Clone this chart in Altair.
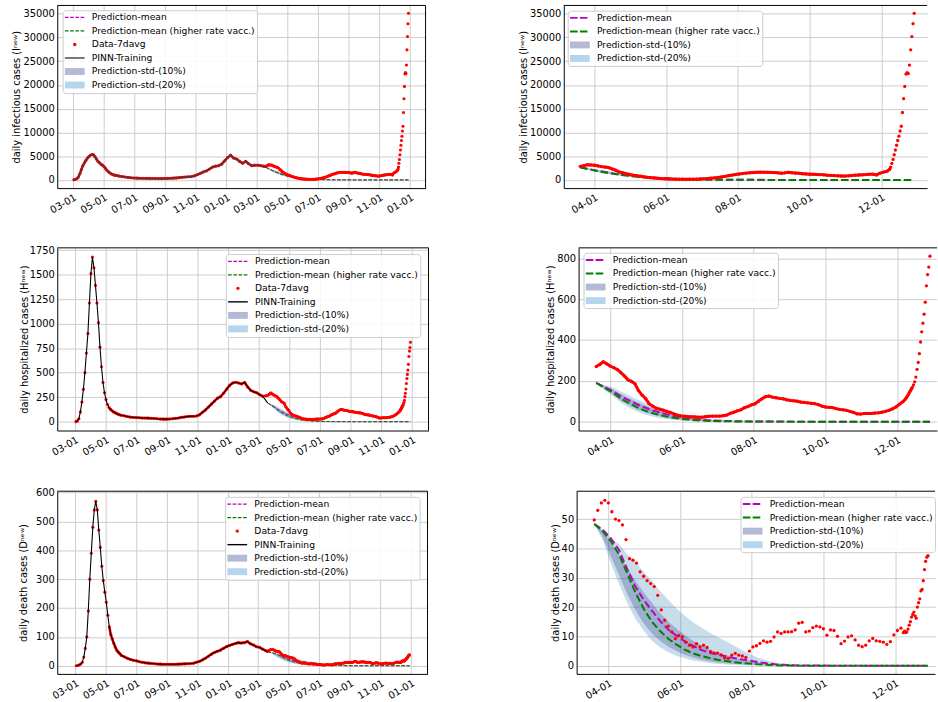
import altair as alt
import pandas as pd

# ---------------------------------------------------------------- data
# observed 7-day averages, stored in four segments with their own sampling step
SEG_STARTS = ["2020-03-03", "2020-06-01", "2021-03-20", "2021-12-08"]
SEG_STEPS = [3, 6, 3, 1]

I_SEG1 = [50, 120, 250, 600, 1300, 2200, 3000, 3600, 4100, 4600,
          4900, 5200, 5350, 5300, 4900, 4400, 3900, 3600, 3300, 3100,
          2800, 2400, 2000, 1700, 1450, 1250, 1100, 1000, 950, 880]
I_SEG2 = [800, 700, 600, 520, 450, 400, 370, 350, 330, 320,
          310, 300, 290, 280, 280, 300, 320, 350, 380, 420,
          480, 550, 600, 650, 700, 850, 1100, 1400, 1700, 1900,
          2300, 2700, 2900, 3000, 3300, 4000, 4700, 5200, 4600, 4400,
          3900, 3500, 3900, 3400, 3000, 3100, 3100, 3000, 2900]
I_SEG3 = [2850, 3000, 3200, 3150, 3100, 2950, 2800, 2700, 2600, 2300,
          2050, 1700, 1500, 1300, 1150, 1000, 900, 780, 650, 550,
          470, 400, 330, 270, 220, 190, 170, 150, 140, 135,
          130, 135, 140, 160, 190, 230, 280, 350, 430, 520,
          620, 750, 880, 1000, 1130, 1230, 1330, 1430, 1500, 1560,
          1600, 1610, 1600, 1590, 1570, 1540, 1500, 1420, 1480, 1600,
          1520, 1450, 1380, 1310, 1250, 1200, 1170, 1150, 1110, 1080,
          1000, 950, 900, 860, 820, 800, 850, 920, 1000, 1050,
          1080, 1120, 1180, 1200, 1050, 1450, 1650, 1850]
I_SEG4 = [2200, 2700, 3500, 4300, 5300, 6300, 7300, 8300, 9200, 10300,
          11300, 14200, 17100, 19700, 22300, 22600, 22400, 24200, 27400, 30200,
          32900, 35100]

H_SEG1 = [0, 8, 30, 100, 200, 330, 500, 700, 900, 1210,
          1510, 1680, 1570, 1390, 1210, 1010, 760, 560, 400, 295,
          225, 175, 145, 125, 112, 100, 92, 84, 77, 71]
H_SEG2 = [66, 60, 53, 47, 44, 42, 40, 38, 37, 36,
          35, 33, 30, 28, 26, 26, 27, 30, 34, 38,
          44, 48, 52, 55, 56, 58, 70, 95, 120, 150,
          180, 210, 240, 255, 290, 330, 370, 395, 402, 395,
          385, 400, 355, 320, 305, 295, 275, 260, 265]
H_SEG3 = [270, 280, 293, 283, 272, 264, 255, 240, 224, 205,
          197, 185, 152, 130, 113, 88, 76, 66, 61, 56,
          50, 45, 38, 32, 28, 27, 25, 24, 23, 22,
          22, 24, 26, 27, 27, 27, 29, 32, 40, 46,
          53, 58, 68, 74, 82, 87, 100, 112, 122, 125,
          120, 117, 114, 112, 107, 104, 102, 100, 96, 94,
          92, 90, 88, 83, 76, 72, 70, 69, 64, 60,
          58, 55, 50, 45, 38, 37, 40, 40, 40, 42,
          43, 46, 50, 55, 62, 72, 85, 98]
H_SEG4 = [110, 118, 127, 137, 148, 158, 168, 180, 195, 218,
          256, 290, 333, 390, 440, 482, 526, 585, 665, 720,
          757, 810]

D_SEG1 = [0, 1, 3, 6, 12, 30, 60, 100, 190, 300,
          390, 480, 540, 570, 540, 470, 410, 345, 295, 255,
          220, 175, 135, 108, 92, 78, 64, 54, 47, 42]
D_SEG2 = [36, 31, 26, 22, 19, 17, 14, 12, 10, 9,
          8, 7, 6, 5.5, 5, 5, 5, 5, 5, 5.5,
          6, 6.5, 7, 7.5, 8.5, 12, 15, 20, 26, 33,
          40, 46, 50, 54, 60, 66, 70, 74, 77, 80,
          79, 80, 84, 76, 72, 66, 64, 58, 53]
D_SEG3 = [49.7, 53, 55.5, 56.4, 55.5, 52.5, 50, 49.5, 48, 43,
          36.5, 36, 35, 32, 30.5, 29, 28, 27, 24, 19,
          15.5, 13.5, 11.5, 9.2, 10.3, 9.8, 8, 7, 6.4, 7.5,
          6.4, 7, 6.2, 4.8, 4.3, 4.3, 3.7, 2.7, 2.5, 3.6,
          4.2, 3.6, 3.3, 2.8, 5, 6.4, 6.8, 7.6, 8.5, 8,
          8.3, 9.8, 11.5, 11, 11.5, 11.5, 11.6, 12.2, 14.5, 14.8,
          11.5, 11.8, 13, 13.5, 13.2, 12.6, 10.4, 12.2, 12, 10,
          7.5, 8.4, 9.8, 10.2, 8.8, 7, 6.5, 7, 8.5, 9.3,
          8.5, 8.3, 8, 7.3, 8.2, 10.5, 12, 12.8]
D_SEG4 = [11.3, 11.8, 11.3, 11.5, 12.5, 13.8, 15, 16.6, 17.5, 18.3,
          17, 16.2, 20, 21.5, 22.8, 25.5, 26, 29, 32.8, 35.6,
          37, 37.5]

# PINN training curve follows the data up to this date and ends at the prediction start
PINN_FIT_UNTIL = "2021-03-10"
PINN_END_DATE = "2021-03-20"
I_PINN_END, H_PINN_END, D_PINN_END = 2650, 190, 48.3

# predictions: weekly from 2021-03-20, plus a final value at the last data day
PRED_START, PRED_N, PRED_END = "2021-03-20", 27, "2021-12-29"
I_MEAN = [2650, 2300, 1950, 1650, 1370, 1130, 920, 740, 590, 460, 360, 280, 215, 165, 125, 95, 70, 52, 38, 27, 19, 13, 9, 6, 4, 2, 1, 0]
I_VACC = [2650, 2250, 1880, 1560, 1270, 1030, 820, 650, 510, 390, 300, 225, 170, 125, 92, 68, 50, 36, 26, 18, 12, 8, 5, 3, 2, 1, 0, 0]
I_HI20 = [2650, 2450, 2200, 1950, 1700, 1450, 1230, 1030, 850, 700, 570, 460, 370, 290, 230, 180, 140, 105, 80, 60, 45, 33, 24, 17, 12, 8, 5, 0]
I_HI10 = [2650, 2380, 2080, 1800, 1530, 1290, 1080, 890, 720, 580, 460, 370, 290, 225, 175, 135, 100, 75, 55, 40, 29, 21, 15, 10, 7, 4, 2, 0]
I_LO10 = [2650, 2200, 1800, 1470, 1180, 940, 740, 580, 450, 340, 260, 190, 140, 100, 72, 52, 37, 26, 18, 12, 8, 5, 3, 2, 1, 0, 0, 0]
I_LO20 = [2650, 2120, 1680, 1330, 1040, 800, 610, 460, 340, 250, 180, 130, 92, 64, 44, 30, 20, 13, 9, 6, 4, 2, 1, 0, 0, 0, 0, 0]

H_MEAN = [190, 170, 150, 124, 104, 84, 68, 53, 42, 31, 23, 17, 12, 8.5, 6, 4.2, 3, 2, 1.4, 1, 0.7, 0.5, 0.3, 0.2, 0.1, 0.05, 0, 0]
H_VACC = [190, 165, 142, 112, 90, 70, 53, 40, 30, 21, 15, 10.5, 7.3, 5, 3.4, 2.3, 1.6, 1.1, 0.7, 0.5, 0.3, 0.2, 0.1, 0.05, 0, 0, 0, 0]
H_HI20 = [190, 180, 168, 148, 128, 108, 90, 73, 60, 48, 38, 29, 22, 16, 12, 9, 6.5, 4.5, 3.2, 2.2, 1.5, 1, 0.6, 0.4, 0.2, 0.1, 0, 0]
H_HI10 = [190, 175, 158, 135, 115, 95, 78, 62, 49, 38, 29, 22, 16, 11, 8, 5.7, 4, 2.8, 1.9, 1.3, 0.9, 0.6, 0.4, 0.2, 0.1, 0, 0, 0]
H_LO10 = [190, 160, 135, 102, 80, 60, 45, 33, 24, 16, 11, 7.5, 5, 3.3, 2.2, 1.5, 1, 0.6, 0.4, 0.3, 0.2, 0.1, 0, 0, 0, 0, 0, 0]
H_LO20 = [190, 155, 125, 92, 68, 48, 34, 24, 16, 10.5, 7, 4.5, 3, 2, 1.3, 0.8, 0.5, 0.3, 0.2, 0.1, 0, 0, 0, 0, 0, 0, 0, 0]

D_MEAN = [48.3, 46.5, 43.5, 39.5, 33, 27, 22.5, 18.8, 15.3, 12.3, 10.2, 8.3, 6.8, 5.4, 4.4, 3.8, 3.2, 2.6, 2.1, 1.7, 1.2, 0.8, 0.5, 0.3, 0.15, 0.07, 0.03, 0]
D_VACC = [48.3, 46, 42.5, 38, 31.5, 25, 19.5, 15, 11.8, 9.2, 7.2, 5.5, 4.2, 3.3, 2.6, 2.0, 1.6, 1.2, 0.9, 0.7, 0.45, 0.3, 0.18, 0.1, 0.05, 0.02, 0, 0]
D_HI20 = [48.3, 46.5, 43.5, 41.5, 38, 35.5, 32, 29, 25.5, 22.5, 19.5, 17, 14.8, 13, 11.3, 9.8, 8.3, 6.8, 5.3, 3.8, 2.6, 1.8, 1.1, 0.7, 0.35, 0.15, 0.05, 0]
D_HI10 = [48.3, 46, 42, 38, 33.5, 29, 25, 21.5, 18, 15, 12.7, 10.5, 8.5, 7, 5.6, 4.5, 3.6, 2.8, 2.1, 1.6, 1.1, 0.7, 0.4, 0.2, 0.1, 0.05, 0, 0]
D_LO10 = [48.3, 44, 37.5, 31, 24.5, 19, 14.5, 11, 8.5, 6.5, 5, 3.7, 2.8, 2, 1.5, 1.1, 0.8, 0.6, 0.4, 0.3, 0.2, 0.1, 0.05, 0, 0, 0, 0, 0]
D_LO20 = [48.3, 43, 35, 28, 21.5, 16, 12, 8.5, 6.3, 4.6, 3.4, 2.5, 1.8, 1.3, 0.9, 0.6, 0.4, 0.3, 0.2, 0.1, 0.1, 0.05, 0, 0, 0, 0, 0, 0]

LEFT_XTICKS = ["2020-03-01", "2020-05-01", "2020-07-01", "2020-09-01", "2020-11-01", "2021-01-01",
               "2021-03-01", "2021-05-01", "2021-07-01", "2021-09-01", "2021-11-01", "2022-01-01"]
RIGHT_XTICKS = ["2021-04-01", "2021-06-01", "2021-08-01", "2021-10-01", "2021-12-01"]
I_YTICKS = [0, 5000, 10000, 15000, 20000, 25000, 30000, 35000]
H_YTICKS_L = [0, 250, 500, 750, 1000, 1250, 1500, 1750]
H_YTICKS_R = [0, 200, 400, 600, 800]
D_YTICKS_L = [0, 100, 200, 300, 400, 500, 600]
D_YTICKS_R = [0, 10, 20, 30, 40, 50]

NAMES = ["Prediction-mean", "Prediction-mean (higher rate vacc.)", "Data-7davg",
         "PINN-Training", "Prediction-std-(10%)", "Prediction-std-(20%)"]
TITLES = {"I": "daily infectious cases (I\u207f\u1d49\u02b7)",
          "H": "daily hospitalized cases (H\u207f\u1d49\u02b7)",
          "D": "daily death cases (D\u207f\u1d49\u02b7)"}

# stretches where the daily data are dense enough to read as a continuous red trace
DENSE = {"I": ("2020-03-03", "2021-12-09"), "H": ("2020-05-08", "2021-12-14"), "D": ("2020-05-08", "2021-12-07")}

MAGENTA, GREEN, RED = "#bf00bf", "#008000", "#ff0000"
NAVY, BLUE = "#191970", "#1f77b4"
SW10, SW20 = "#b4bad6", "#b5d5ed"


# ---------------------------------------------------------------- frames
def iso(idx):
    return [d.strftime("%Y-%m-%d") for d in idx]


def obs_frame(segs):
    parts = []
    for start, step, vals in zip(SEG_STARTS, SEG_STEPS, segs):
        parts.append(pd.DataFrame({"date": iso(pd.date_range(start, periods=len(vals), freq=f"{step}D")),
                                   "value": vals}))
    return pd.concat(parts, ignore_index=True)


PRED_DATES = iso(pd.date_range(PRED_START, periods=PRED_N, freq="7D")) + [PRED_END]


def pred_frame(mean, vacc, lo20, lo10, hi10, hi20):
    return pd.DataFrame({"date": PRED_DATES, "mean": mean, "vacc": vacc,
                         "lo20": lo20, "lo10": lo10, "hi10": hi10, "hi20": hi20})


def pinn_frame(obs, end_val):
    fit = obs[obs["date"] <= PINN_FIT_UNTIL][["date", "value"]]
    return pd.concat([fit, pd.DataFrame({"date": [PINN_END_DATE], "value": [end_val]})], ignore_index=True)


DATA = {}
for key, segs, pend, pred in [
    ("I", [I_SEG1, I_SEG2, I_SEG3, I_SEG4], I_PINN_END, [I_MEAN, I_VACC, I_LO20, I_LO10, I_HI10, I_HI20]),
    ("H", [H_SEG1, H_SEG2, H_SEG3, H_SEG4], H_PINN_END, [H_MEAN, H_VACC, H_LO20, H_LO10, H_HI10, H_HI20]),
    ("D", [D_SEG1, D_SEG2, D_SEG3, D_SEG4], D_PINN_END, [D_MEAN, D_VACC, D_LO20, D_LO10, D_HI10, D_HI20]),
]:
    o = obs_frame(segs)
    DATA[key] = (o, pinn_frame(o, pend), pred_frame(*pred))


# ---------------------------------------------------------------- legend symbols (styling)
U = 5.0  # px per symbol unit with symbolSize 100


def bar(x0, x1, h):
    return f"M{x0 / U:.3f},{-h / U:.3f}H{x1 / U:.3f}V{h / U:.3f}H{x0 / U:.3f}Z"


def dashed(dash, gap, h):
    out, x = [], -5.0
    while x < 15:
        out.append(bar(x, min(x + dash, 15.0), h))
        x += dash + gap
    return "".join(out)


CIRCLE = "M0.66,0A0.34,0.34,0,1,1,1.34,0A0.34,0.34,0,1,1,0.66,0Z"


def legend_layer(names, shapes, colors, lx, ly, X, Y):
    leg = alt.Legend(orient="none", legendX=lx, legendY=ly, title=None, padding=2.3,
                     fillColor="rgba(255,255,255,0.85)", strokeColor="#cccccc", cornerRadius=3,
                     labelFontSize=9.3, labelFont="DejaVu Sans", labelColor="black", labelLimit=400,
                     symbolSize=100, labelOffset=17.3, rowPadding=2.7, symbolStrokeWidth=0,
                     symbolOpacity=1)
    df = pd.DataFrame({"date": [None] * len(names), "value": [None] * len(names), "series": names})
    return alt.Chart(df).mark_point(filled=True, opacity=1, strokeWidth=0).encode(
        x=X("date"), y=Y("value"),
        color=alt.Color("series:N", scale=alt.Scale(domain=names, range=colors), legend=leg),
        shape=alt.Shape("series:N", scale=alt.Scale(domain=names, range=shapes), legend=leg),
    )


def dt(s, hours=0):
    y, m, d = (int(p) for p in s.split("-"))
    return alt.DateTime(year=y, month=m, date=d, hours=hours, utc=True)


def panel(key, side, W, H, x0, x1, ydom, yticks, tpad, lx, ly):
    obs, pinn, pred = DATA[key]
    left = side == "L"
    xticks = LEFT_XTICKS if left else RIGHT_XTICKS
    xscale = alt.Scale(type="utc", domain=[dt(x0), dt(x1)], nice=False)
    xaxis = alt.Axis(values=[dt(v) for v in xticks], format="%m-%d", labelAngle=-30, labelAlign="right",
                     labelBaseline="top", labelPadding=4, labelOverlap=False, grid=True, ticks=False,
                     title=None)
    yscale = alt.Scale(domain=ydom, nice=False, zero=False)
    yaxis = alt.Axis(values=yticks, format="d", grid=True, ticks=False, labelPadding=3,
                     labelOverlap=False, title=TITLES[key], titlePadding=tpad)

    def X(f):
        return alt.X(f"{f}:T", scale=xscale, axis=xaxis)

    def Y(f):
        return alt.Y(f"{f}:Q", scale=yscale, axis=yaxis)

    lw = 1.0 if left else 2.0
    dash = [3.7, 1.6] if left else [7.4, 3.2]
    layers = [
        alt.Chart(pred).mark_area(color=BLUE, opacity=0.25).encode(x=X("date"), y=Y("lo20"), y2="hi20:Q"),
        alt.Chart(pred).mark_area(color=NAVY, opacity=0.24).encode(x=X("date"), y=Y("lo10"), y2="hi10:Q"),
        alt.Chart(pred).mark_line(color=MAGENTA, strokeWidth=lw, strokeDash=dash).encode(x=X("date"), y=Y("mean")),
        alt.Chart(pred).mark_line(color=GREEN, strokeWidth=lw, strokeDash=dash).encode(x=X("date"), y=Y("vacc")),
    ]
    o = obs if left else obs[obs["date"] >= "2021-03-19"]
    d0, d1 = DENSE[key]
    if left or key != "D":
        dense = o[(o["date"] >= d0) & (o["date"] <= d1)]
        layers.append(alt.Chart(dense).mark_line(color=RED, strokeWidth=2.6 if left else 3.0)
                      .encode(x=X("date"), y=Y("value")))
    layers.append(alt.Chart(o).mark_circle(color=RED, size=10 if left else 11, opacity=1)
                  .encode(x=X("date"), y=Y("value")))
    pinn_col = "#3c3c3c" if key == "I" else "black"
    if left:
        layers.append(alt.Chart(pinn).mark_line(color=pinn_col, strokeWidth=1.4 if key == "I" else 1.1)
                      .encode(x=X("date"), y=Y("value")))
    one = pd.DataFrame({"a": [0]})
    layers.append(alt.Chart(one).mark_rule(color="black", strokeWidth=1)
                  .encode(x=alt.value(0), x2=alt.value(W), y=alt.value(0)))
    if left:
        layers.append(alt.Chart(one).mark_rule(color="black", strokeWidth=1)
                      .encode(x=alt.value(W), y=alt.value(0), y2=alt.value(H)))

    thin = dashed(3.7, 1.6, 0.65)
    thick = dashed(7.7, 2.3, 1.0)
    solid = bar(-5, 15, 0.7)
    square = bar(-5, 15, 3.5)
    if left:
        names = NAMES
        shapes = [thin, thin, CIRCLE, solid, square, square]
        colors = [MAGENTA, GREEN, RED, pinn_col, SW10, SW20]
    else:
        names = [NAMES[0], NAMES[1], NAMES[4], NAMES[5]]
        shapes = [thick, thick, square, square]
        colors = [MAGENTA, GREEN, SW10, SW20]
    layers.append(legend_layer(names, shapes, colors, lx, ly, X, Y))
    return alt.layer(*layers).properties(width=W, height=H)


TL = panel("I", "L", 373, 185, "2020-01-30", "2022-02-01", [-1730, 36750], I_YTICKS, 1.5, 5.4, 4.8)
TR = panel("I", "R", 368, 185, "2021-03-06", "2022-01-09", [-1730, 36750], I_YTICKS, 1.0, 4, 5.3)
ML = panel("H", "L", 376, 185, "2020-01-26", "2022-02-03", [-90, 1773], H_YTICKS_L, 0.0, 170.7, 6.3)
MR = panel("H", "R", 363, 185, "2021-03-05", "2022-01-04", [-43.4, 851], H_YTICKS_R, 1.0, 5, 5)
BL = panel("D", "L", 375, 185, "2020-01-25", "2022-02-03", [-28.3, 604.8], D_YTICKS_L, 6.9, 170, 5.7)
BR = panel("D", "R", 363, 185, "2021-03-05", "2022-01-04", [-2.8, 59.5], D_YTICKS_R, 1.0, 166, 5.7)

ind = dict(color="independent", shape="independent")
row1 = alt.hconcat(TL, TR, spacing=93).resolve_scale(**ind)
row2 = alt.hconcat(ML, MR, spacing=117).resolve_scale(**ind)
row3 = alt.hconcat(BL, BR, spacing=123).resolve_scale(**ind)

chart = (
    alt.vconcat(row1, row2, row3, spacing=29.5)
    .resolve_scale(**ind)
    .properties(padding={"left": 11, "top": 0, "right": 0, "bottom": 0})
    .configure_view(stroke=None)
    .configure_axis(labelFont="DejaVu Sans", labelFontSize=10, labelColor="black",
                    titleFont="DejaVu Sans", titleFontSize=10, titleFontWeight="normal", titleColor="black",
                    gridColor="#cccccc", gridWidth=1, domainColor="black", domainWidth=1)
    .configure_legend(labelFont="DejaVu Sans", labelColor="black")
)

chart.save("out.html", embed_options={"renderer": "svg", "actions": False})
